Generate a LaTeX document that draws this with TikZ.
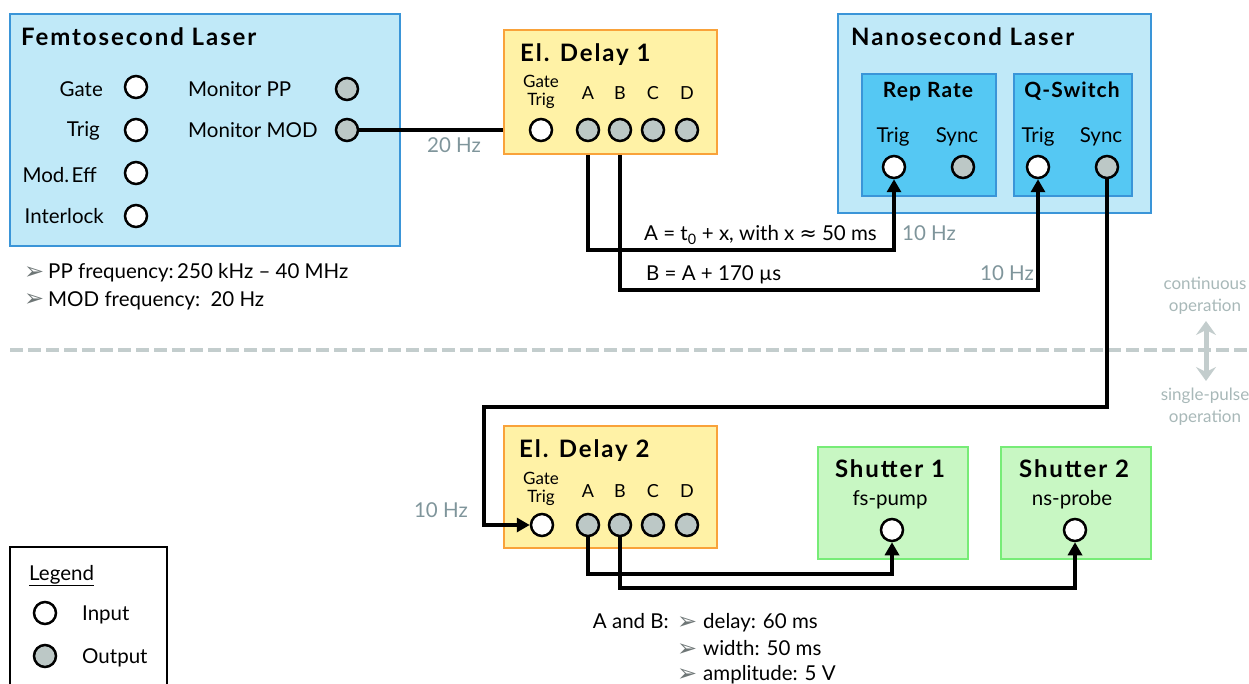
\documentclass[tikz,border=0pt]{standalone}
\usepackage{fontspec}
\setmainfont{Lato}
\newfontfamily\symf{DejaVu Sans}
\usetikzlibrary{arrows.meta}
\definecolor{fsfill}{HTML}{C0E9F8}
\definecolor{fsdraw}{HTML}{3A95D8}
\definecolor{subfill}{HTML}{55C8F3}
\definecolor{yfill}{HTML}{FFF2A6}
\definecolor{ydraw}{HTML}{F9A23A}
\definecolor{gfill}{HTML}{C8F7C3}
\definecolor{gdraw}{HTML}{77EC77}
\definecolor{portgray}{HTML}{BCC8C6}
\definecolor{hztext}{HTML}{7F959B}
\definecolor{optext}{HTML}{A8B8B8}
\definecolor{dashc}{HTML}{C3CDCD}
\definecolor{bulc}{HTML}{6E7676}
\newcommand\myN{\fontsize{20.5}{24}\selectfont}
\newcommand\myT{\fontsize{24}{28}\selectfont\bfseries\addfontfeatures{LetterSpace=8}}
\newcommand\myR{\fontsize{21}{25}\selectfont\bfseries\addfontfeatures{LetterSpace=5}}
\newcommand\myS{\fontsize{17}{20}\selectfont}
\newcommand\myL{\fontsize{18}{21}\selectfont}
\newcommand\myO{\fontsize{17}{20}\selectfont}
\newcommand\bul{{\symf\color{bulc}\fontsize{24}{26}\selectfont ➢}}
\begin{document}
\begin{tikzpicture}[x=1pt,y=-1pt,
  box/.style={draw, line width=2.5pt, inner sep=0pt, minimum width=#1},
  fsbox/.style={box=#1, fill=fsfill, draw=fsdraw},
  subbox/.style={box=#1, fill=subfill, draw=fsdraw},
  ybox/.style={box=#1, fill=yfill, draw=ydraw},
  gbox/.style={box=#1, fill=gfill, draw=gdraw},
  port/.style={circle, draw=black, line width=2.5pt, minimum size=22pt, inner sep=0pt},
  inport/.style={port, fill=white},
  outport/.style={port, fill=portgray},
  wire/.style={line width=4pt, draw=black},
  arr/.style={-{Triangle[length=13pt,width=14pt]}},
  tw/.style={inner sep=0pt, anchor=base west, font=\myN},
  te/.style={inner sep=0pt, anchor=base east, font=\myN},
  tc/.style={inner sep=0pt, anchor=base, font=\myN},
  hz/.style={text=hztext},
  op/.style={inner sep=0pt, anchor=base, font=\myO, text=optext}
]
\useasboundingbox (0,0) rectangle (1249,684);
\clip (0,0) rectangle (1249,684);

% dashed separator
\coordinate (dl) at (10,350);
\coordinate (dr) at (1249,350);
\draw[dashc, line width=4pt, dash pattern=on 13pt off 5pt] (dl) -- (dr);

% boxes
\node[fsbox=390pt, minimum height=232pt] (fs) at (205,130) {};
\node[ybox=213pt, minimum height=124pt] (d1) at (610.5,92) {};
\node[fsbox=313pt, minimum height=199pt] (ns) at (994.5,113.5) {};
\node[subbox=134pt, minimum height=122pt] (rr) at (929,135) {};
\node[subbox=118pt, minimum height=122pt] (qs) at (1073,135) {};
\node[ybox=213pt, minimum height=122pt] (d2) at (610.5,487) {};
\node[gbox=150pt, minimum height=112pt] (s1) at (893,503) {};
\node[gbox=150pt, minimum height=112pt] (s2) at (1076,503) {};
\node[draw=black, line width=2pt, minimum width=157pt, minimum height=153pt, inner sep=0pt] (lg) at (88.5,623.5) {};

% Femtosecond laser
\node[tw, font=\myT] (fst) at (21,46) {Femtosecond Laser};
\node[te] (l1) at (103,97) {Gate};
\node[te] (l2) at (100,137) {Trig};
\node[te] (l3) at (97,183) {Mod.\hspace{0.12em}Eff};
\node[te] (l4) at (104,224) {Interlock};
\node[tw] (l5) at (188,97) {Monitor PP};
\node[tw] (l6) at (188,138) {Monitor MOD};
\node[inport] (fsG) at (136,87) {};
\node[inport] (fsT) at (136,130) {};
\node[inport] (fsM) at (136,173) {};
\node[inport] (fsI) at (136,216) {};
\node[outport] (fsPP) at (347,89) {};
\node[outport] (fsMOD) at (347,130) {};
\node[tw] (b1) at (24,280) {\bul};
\node[tw] (b1t) at (48,279) {PP frequency:\,250 kHz – 40 MHz};
\node[tw] (b2) at (24,307) {\bul};
\node[tw] (b2t) at (48,306) {MOD frequency:\enspace 20 Hz};

% El. Delay 1
\node[tw, font=\myT] (d1t) at (520,62) {El. Delay 1};
\node[tc, font=\myS] (d1g1) at (541,88) {Gate};
\node[tc, font=\myS] (d1g2) at (541,106) {Trig};
\node[tc, font=\myL] (d1la) at (588,100) {A};
\node[tc, font=\myL] (d1lb) at (620,100) {B};
\node[tc, font=\myL] (d1lc) at (653,100) {C};
\node[tc, font=\myL] (d1ld) at (687,100) {D};
\node[tw, hz] (hz20) at (427,153) {20 Hz};
\node[tw] (eqa) at (644,241) {A = t\textsubscript{0} + x, with x {\symf ≈} 50 ms};
\node[tw] (eqb) at (646,281) {B = A + 170 µs};
\node[tw, hz] (hz10a) at (902,241) {10 Hz};
\node[tw, hz] (hz10b) at (980,281) {10 Hz};

% Nanosecond laser
\node[tw, font=\myT] (nst) at (851,46) {Nanosecond Laser};
\node[tc, font=\myR] (rrt) at (928,98) {Rep Rate};
\node[tc, font=\myR] (qst) at (1072,98) {Q-Switch};
\node[tc] (rrl1) at (893,143) {Trig};
\node[tc] (rrl2) at (957,143) {Sync};
\node[tc] (qsl1) at (1038,143) {Trig};
\node[tc] (qsl2) at (1101,143) {Sync};

% operation labels
\node[op] (o1) at (1205,290) {continuous};
\node[op] (o2) at (1205,312) {operation};
\node[op] (o3) at (1205,400) {single-pulse};
\node[op] (o4) at (1205,422) {operation};
\coordinate (au) at (1206,321);
\coordinate (ad) at (1206,381);
\draw[draw=dashc, line width=5pt, {Stealth[length=14pt,width=20pt,inset=5pt]}-{Stealth[length=14pt,width=20pt,inset=5pt]}] (au) -- (ad);

% El. Delay 2
\node[tw, font=\myT] (d2t) at (519,457) {El. Delay 2};
\node[tc, font=\myS] (d2g1) at (541,484) {Gate};
\node[tc, font=\myS] (d2g2) at (541,502) {Trig};
\node[tc, font=\myL] (d2la) at (588,497) {A};
\node[tc, font=\myL] (d2lb) at (620,497) {B};
\node[tc, font=\myL] (d2lc) at (653,497) {C};
\node[tc, font=\myL] (d2ld) at (687,497) {D};
\node[te, hz] (hz10c) at (468,517) {10 Hz};
\node[te] (ab) at (669,628) {A and B:};
\node[tw] (ab1) at (677,629) {\bul};
\node[tw] (ab1t) at (703,628) {delay: 60 ms};
\node[tw] (ab2) at (677,656) {\bul};
\node[tw] (ab2t) at (703,655) {width: 50 ms};
\node[tw] (ab3) at (677,681) {\bul};
\node[tw] (ab3t) at (703,680) {amplitude: 5 V};

% Shutters
\node[tc, font=\myT] (s1t) at (890,477) {Shutter 1};
\node[tc] (s1s) at (890,505) {fs-pump};
\node[tc, font=\myT] (s2t) at (1074,477) {Shutter 2};
\node[tc] (s2s) at (1072,505) {ns-probe};

% Legend
\node[tw] (lgt) at (29,580) {\underline{Legend}};
\node[tw] (lgi) at (82,620) {Input};
\node[tw] (lgo) at (82,663) {Output};

% ports
\node[inport] (d1G) at (541,130) {};
\node[outport] (d1A) at (588,130) {};
\node[outport] (d1B) at (620,130) {};
\node[outport] (d1C) at (653,130) {};
\node[outport] (d1D) at (687,130) {};
\node[inport] (rrT) at (894,167) {};
\node[outport] (rrS) at (963,167) {};
\node[inport] (qsT) at (1038,167) {};
\node[outport] (qsS) at (1107,167) {};
\node[inport] (d2G) at (542,525) {};
\node[outport] (d2A) at (588,525) {};
\node[outport] (d2B) at (620,525) {};
\node[outport] (d2C) at (653,525) {};
\node[outport] (d2D) at (687,525) {};
\node[inport] (s1P) at (892,530) {};
\node[inport] (s2P) at (1075,530) {};
\node[inport] (lgIn) at (45,613) {};
\node[outport] (lgOut) at (45,656) {};

% wires
\coordinate (w1) at (588,250);
\coordinate (w2) at (620,290);
\coordinate (w3) at (1107,407);
\coordinate (w4) at (484,407);
\coordinate (w5) at (588,574);
\coordinate (w6) at (620,588);
\draw[wire] (fsMOD) -- (fsMOD -| d1.west);
\draw[wire, arr] (d1A |- d1.south) -- (w1) -| (rrT);
\draw[wire, arr] (d1B |- d1.south) -- (w2) -| (qsT);
\draw[wire, arr] (qsS) -- (w3) -- (w4) |- (d2G);
\draw[wire, arr] (d2A) -- (w5) -| (s1P);
\draw[wire, arr] (d2B) -- (w6) -| (s2P);
\end{tikzpicture}
\end{document}
